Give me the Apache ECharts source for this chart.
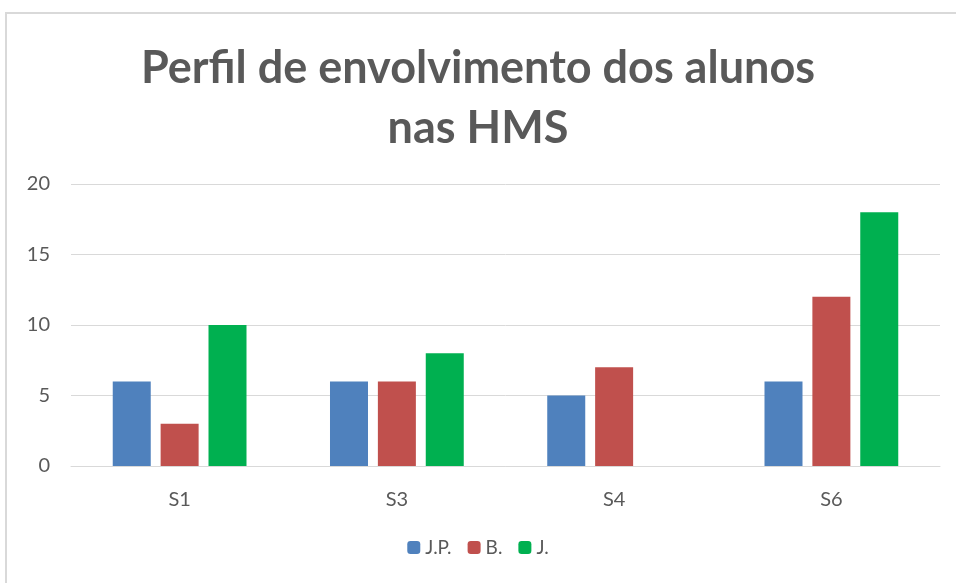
<!DOCTYPE html>
<html>
<head>
<meta charset="utf-8">
<script src="https://cdn.jsdelivr.net/npm/echarts@6/dist/echarts.min.js"></script>
<style>
    html, body { margin: 0; padding: 0; background: #fff; }
    #frame {
        position: absolute; left: 5px; top: 12px; width: 960px; height: 580px;
        border-left: 2px solid #d9d9d9; border-top: 2px solid #d9d9d9;
    }
    #main { position: absolute; left: 0; top: 0; width: 956px; height: 583px; }
</style>
</head>
<body>
<div id="frame"></div>
<div id="main"></div>
<script>
// chart data
const categories = ['S1', 'S3', 'S4', 'S6'];
const seriesNames = ['J.P.', 'B.', 'J.'];
const jpValues = [6, 6, 5, 6];
const bValues = [3, 6, 7, 12];
const jValues = [10, 8, 0, 18];
const colors = ['#4F81BD', '#C0504D', '#00B050'];

document.addEventListener('DOMContentLoaded', function () {
    drawChart();
});

function drawChart() {

    let myChart = echarts.init(document.getElementById('main'));
    const font = 'Lato, "Open Sans", sans-serif';
    const values = [jpValues, bValues, jValues];

    let option = {
        animation: false,
        color: colors,
        title: {
            text: 'Perfil de envolvimento dos alunos\nnas HMS',
            left: 'center',
            top: 33,
            textStyle: {
                fontFamily: font,
                fontSize: 45,
                fontWeight: 'bold',
                color: '#595959',
                lineHeight: 60
            }
        },
        legend: {
            bottom: 21,
            left: 'center',
            itemWidth: 13,
            itemHeight: 13,
            itemGap: 16,
            textStyle: { fontFamily: font, fontSize: 19, color: '#595959' },
            data: seriesNames
        },
        grid: {
            left: 71,
            right: 16,
            top: 184,
            bottom: 117
        },
        xAxis: {
            type: 'category',
            data: categories,
            axisLine: { lineStyle: { color: '#d9d9d9', width: 1 } },
            axisTick: { show: false },
            axisLabel: { fontFamily: font, fontSize: 20, color: '#595959', margin: 24 }
        },
        yAxis: {
            type: 'value',
            min: 0,
            max: 20,
            interval: 5,
            axisLine: { show: false },
            axisTick: { show: false },
            splitLine: { lineStyle: { color: '#d9d9d9', width: 1 } },
            axisLabel: { fontFamily: font, fontSize: 20, color: '#595959', margin: 21 }
        },
        series: seriesNames.map(function (name, i) {
            return {
                name: name,
                type: 'bar',
                data: values[i],
                barWidth: 38,
                barGap: '26%',
                itemStyle: { color: colors[i] }
            };
        })
    };

    myChart.setOption(option);
}
</script>
</body>
</html>
